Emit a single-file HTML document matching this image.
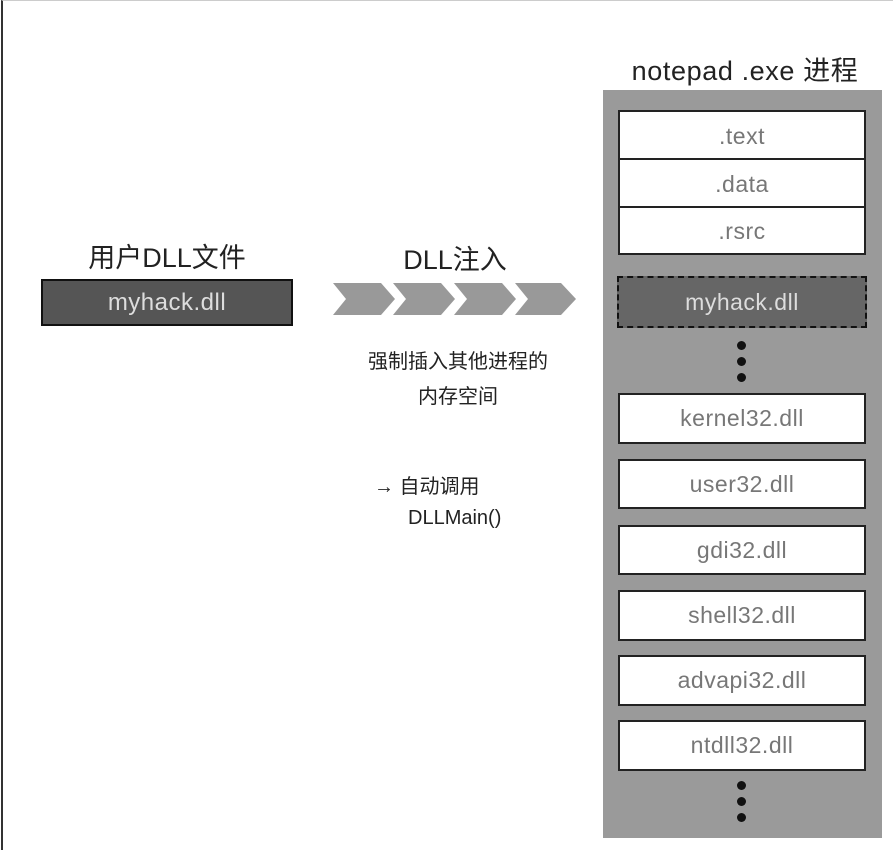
<!DOCTYPE html>
<html><head><meta charset="utf-8"><style>
body{margin:0;width:894px;height:851px;background:#fff;position:relative;overflow:hidden;font-family:"Liberation Sans","Noto Sans CJK SC",sans-serif}
.a{position:absolute}
.t{position:absolute;text-align:center;color:#222}
.box{position:absolute;left:618px;width:248px;background:#fff;border:2px solid #222;box-sizing:border-box;text-align:center;color:#777;font-size:23px;letter-spacing:0.5px}
.dot{position:absolute;width:9px;height:9px;border-radius:50%;background:#111;left:737px}
</style></head><body>
<div class="a" style="left:1px;top:0;width:892px;height:850px;border-left:2px solid #333;border-top:1px solid #ccc;box-sizing:border-box"></div>
<div class="t" style="left:40px;width:254px;top:236px;font-size:27px">用户DLL文件</div>
<div class="a" style="left:41px;top:279px;width:252px;height:47px;background:#555;border:2px solid #111;box-sizing:border-box;color:#ddd;font-size:24px;text-align:center;line-height:43px;letter-spacing:0.5px">myhack.dll</div>
<div class="t" style="left:330px;width:250px;top:238px;font-size:27px">DLL注入</div>
<svg class="a" style="left:333px;top:281px" width="245" height="36">
<g fill="#999">
<polygon points="0,2 48,2 62,18 48,34 0,34 13,18"/>
<polygon points="60,2 108,2 122,18 108,34 60,34 73,18"/>
<polygon points="121,2 169,2 183,18 169,34 121,34 134,18"/>
<polygon points="182,2 228,2 243,18 228,34 182,34 195,18"/>
</g></svg>
<div class="t" style="left:325px;width:266px;top:345px;font-size:20px;line-height:35px">强制插入其他进程的<br>内存空间</div>
<div class="a" style="left:374px;top:472px;font-size:20px;line-height:31px;color:#222">→ 自动调用<br><span style="padding-left:34px">DLLMain()</span></div>
<div class="t" style="left:595px;width:300px;top:49px;font-size:27px;letter-spacing:0.6px">notepad .exe 进程</div>
<div class="a" style="left:603px;top:90px;width:279px;height:748px;background:#9a9a9a"></div>
<div class="box" style="top:110px;height:50px;line-height:48px">.text</div>
<div class="box" style="top:158px;height:50px;line-height:48px">.data</div>
<div class="box" style="top:206px;height:49px;line-height:47px">.rsrc</div>
<div class="a" style="left:617px;top:276px;width:250px;height:52px;background:#666;border:2px dashed #111;box-sizing:border-box;text-align:center;color:#ddd;font-size:23px;line-height:48px;letter-spacing:0.5px">myhack.dll</div>
<div class="dot" style="top:341px"></div><div class="dot" style="top:357px"></div><div class="dot" style="top:373px"></div>
<div class="box" style="top:393px;height:51px;line-height:47px">kernel32.dll</div>
<div class="box" style="top:459px;height:50px;line-height:46px">user32.dll</div>
<div class="box" style="top:525px;height:50px;line-height:46px">gdi32.dll</div>
<div class="box" style="top:590px;height:51px;line-height:47px">shell32.dll</div>
<div class="box" style="top:655px;height:51px;line-height:47px">advapi32.dll</div>
<div class="box" style="top:720px;height:51px;line-height:47px">ntdll32.dll</div>
<div class="dot" style="top:781px"></div><div class="dot" style="top:797px"></div><div class="dot" style="top:813px"></div>
</body></html>
